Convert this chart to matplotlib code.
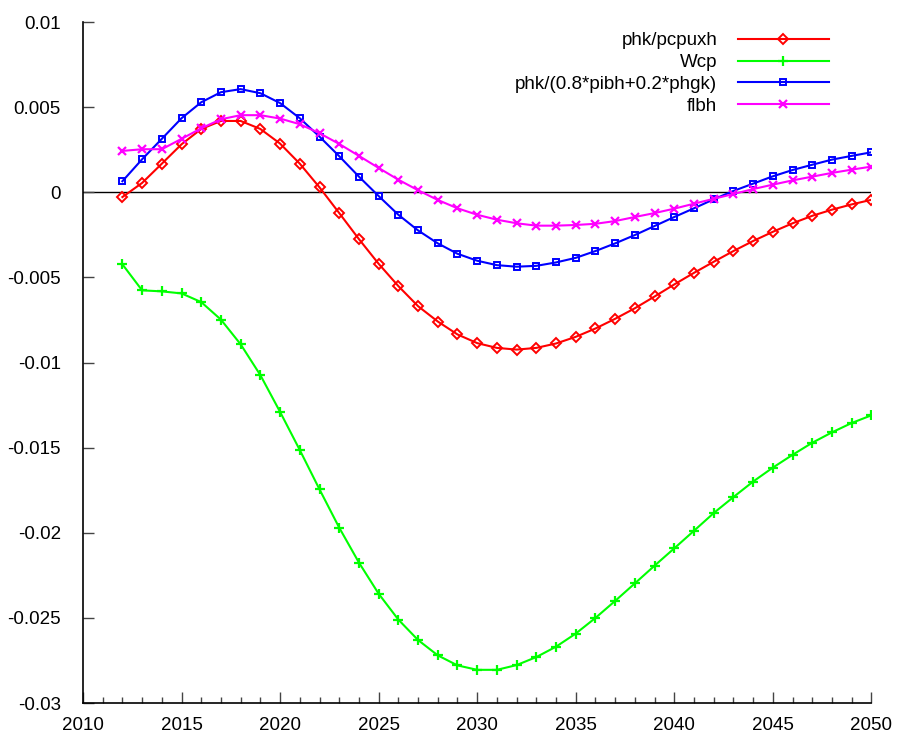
import numpy as np
import matplotlib
matplotlib.use("Agg")
from matplotlib import pyplot as plt
from matplotlib.ticker import MultipleLocator

plt.rcParams['font.family'] = ['Liberation Sans', 'DejaVu Sans']

years = np.arange(2012, 2051)

# phk/pcpuxh
phk_pcpuxh = [-0.00028, 0.00055, 0.00168, 0.00282, 0.00372, 0.00419, 0.00419, 0.00372,
              0.00286, 0.00168, 0.00029, -0.00122, -0.00275, -0.0042, -0.00551, -0.00669,
              -0.00759, -0.00835, -0.00886, -0.00914, -0.00924, -0.00914, -0.00888, -0.00849,
              -0.0080, -0.00743, -0.00681, -0.00612, -0.00541, -0.00473, -0.00408, -0.00345,
              -0.00286, -0.00232, -0.00182, -0.00138, -0.00102, -0.00071, -0.00044]

# Wcp
wcp = [-0.00423, -0.00576, -0.00582, -0.00594, -0.00645, -0.00748, -0.00893, -0.01074,
       -0.0129, -0.01514, -0.01745, -0.0197, -0.02175, -0.02358, -0.0251, -0.0263,
       -0.0272, -0.02779, -0.02805, -0.02805, -0.02777, -0.0273, -0.02669, -0.02592,
       -0.025, -0.024, -0.02297, -0.02193, -0.02091, -0.01988, -0.01884, -0.0179,
       -0.01699, -0.01617, -0.01542, -0.01471, -0.0141, -0.01355, -0.0131]

# phk/(0.8*pibh+0.2*phgk)
phk_mix = [0.00065, 0.00194, 0.00314, 0.00435, 0.00529, 0.00588, 0.00606, 0.00582,
           0.00524, 0.00435, 0.00327, 0.00212, 0.00092, -0.00022, -0.00132, -0.00224,
           -0.0030, -0.00361, -0.00402, -0.00428, -0.00437, -0.00432, -0.00412, -0.00385,
           -0.00345, -0.0030, -0.00251, -0.00198, -0.00145, -0.00094, -0.00041, 0.00008,
           0.00051, 0.00094, 0.00131, 0.00162, 0.00192, 0.00214, 0.00235]

# flbh
flbh = [0.00243, 0.00253, 0.00253, 0.00314, 0.00376, 0.00429, 0.00453, 0.00453,
        0.00433, 0.0040, 0.00347, 0.00284, 0.00214, 0.00143, 0.00074, 0.00012,
        -0.00045, -0.00094, -0.00132, -0.00161, -0.00182, -0.00196, -0.00196, -0.00192,
        -0.00185, -0.00169, -0.00145, -0.00122, -0.00096, -0.00067, -0.00038, -0.0001,
        0.00019, 0.00045, 0.0007, 0.00092, 0.00114, 0.00133, 0.00151]

labels = ['phk/pcpuxh', 'Wcp', 'phk/(0.8*pibh+0.2*phgk)', 'flbh']

fig = plt.figure(figsize=(8.97, 7.35), dpi=100)
ax = fig.add_axes([0.0925, 0.0435, 0.879, 0.9265])

lw = 1.5
ax.plot(years, phk_pcpuxh, color='#ff0000', lw=lw, marker='D', ms=5, mfc='none', mew=1.4, label=labels[0])
ax.plot(years, wcp, color='#00ff00', lw=lw, marker='+', ms=7.5, mew=1.6, label=labels[1])
ax.plot(years, phk_mix, color='#0000ff', lw=lw, marker='s', ms=5, mfc='none', mew=1.4, label=labels[2])
ax.plot(years, flbh, color='#ff00ff', lw=lw, marker='x', ms=5.5, mew=1.6, label=labels[3])

# zero line
ax.axhline(0, color='black', lw=1, zorder=1)

ax.set_xlim(2010, 2050)
ax.set_ylim(-0.03, 0.01)
ax.xaxis.set_major_locator(MultipleLocator(5))
ax.xaxis.set_minor_locator(MultipleLocator(1))
ax.yaxis.set_major_locator(MultipleLocator(0.005))
ax.yaxis.set_major_formatter(plt.FuncFormatter(lambda v, p: '0' if abs(v) < 1e-12 else '%g' % v))

for s in ['top', 'right']:
    ax.spines[s].set_visible(False)
for s in ['left', 'bottom']:
    ax.spines[s].set_linewidth(1.2)
ax.tick_params(which='both', direction='in', labelsize=13.5, width=1, color='#444444')
ax.tick_params(which='major', length=8, pad=10)
ax.tick_params(axis='y', pad=16)
ax.tick_params(which='minor', length=4)

leg = ax.legend(loc='upper right', bbox_to_anchor=(0.946, 0.985), frameon=False,
                markerfirst=False, fontsize=13.5, handlelength=4.85, handletextpad=1.1,
                labelspacing=0.25, borderaxespad=0, borderpad=0)

fig.savefig('out.png', dpi=100)
